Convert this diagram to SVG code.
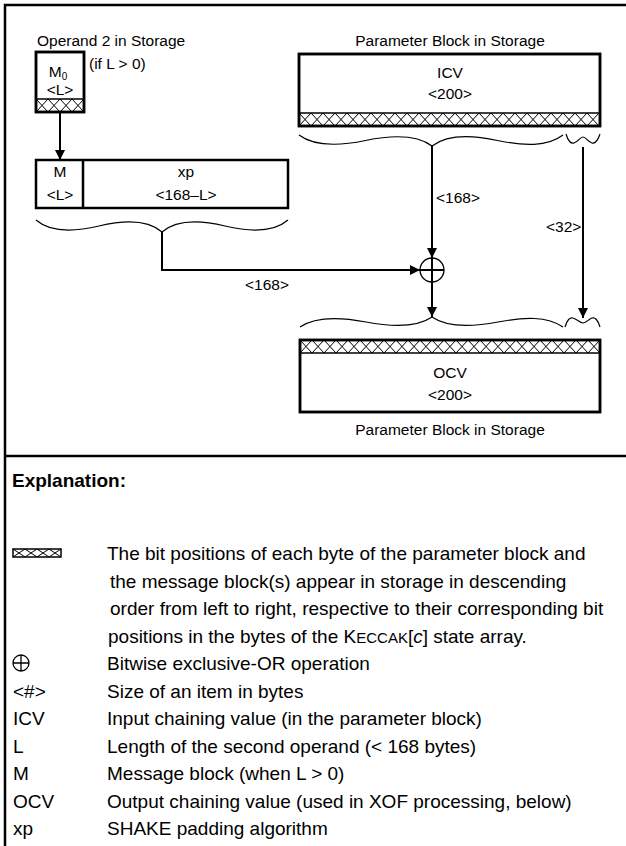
<svg xmlns="http://www.w3.org/2000/svg" width="626" height="846" viewBox="0 0 626 846">
<defs>
<style>
text{font-family:"Liberation Sans",Arial,sans-serif;fill:#000}
.d{font-size:15.5px}
.c{text-anchor:middle}
.l{font-size:19px}
.b{font-weight:bold}
.box{fill:#fff;stroke:#000;stroke-width:2.5}
.ol{fill:none;stroke:#000;stroke-width:2.5}
.strip{stroke:#000;stroke-width:1.5}
.frame{fill:none;stroke:#000;stroke-width:2.5}
.conn{fill:none;stroke:#000;stroke-width:2}
.brace{fill:none;stroke:#000;stroke-width:1.2}
.xc{fill:#fff;stroke:#000;stroke-width:1.3}
.xp{fill:none;stroke:#000;stroke-width:2}
</style>
<pattern id="hatch" width="12" height="13" patternUnits="userSpaceOnUse">
<path d="M0,0L12,13M12,0L0,13" stroke="#000" stroke-width="1" fill="none"/>
</pattern>
<pattern id="hatchS" width="12" height="8" patternUnits="userSpaceOnUse">
<path d="M0,0L12,8M12,0L0,8" stroke="#000" stroke-width="1" fill="none"/>
</pattern>
<marker id="arr" markerUnits="userSpaceOnUse" markerWidth="10" markerHeight="10" refX="10" refY="5" orient="auto">
<path d="M0,0L10,5L0,10z" fill="#000"/>
</marker>
</defs>

<g id="frame">
<path class="frame" d="M5,846V5H626"/>
<path class="frame" d="M5,456H626"/>
</g>

<g id="operand2">
<text class="d" x="37" y="46">Operand 2 in Storage</text>
<rect class="box" x="36" y="52" width="48" height="60"/>
<g transform="translate(36,99)"><rect class="strip" width="48" height="13" fill="url(#hatch)"/></g>
<rect class="ol" x="36" y="52" width="48" height="60"/>
<text class="d c" x="58" y="77">M<tspan font-size="10px" dy="3">0</tspan></text>
<text class="d c" x="60" y="95">&lt;L&gt;</text>
<text class="d" x="89" y="69">(if L &gt; 0)</text>
</g>

<g id="message">
<rect class="box" x="36" y="160" width="252" height="48"/>
<path class="ol" d="M83,160V208"/>
<text class="d c" x="60" y="177">M</text>
<text class="d c" x="60" y="200">&lt;L&gt;</text>
<text class="d c" x="186" y="177">xp</text>
<text class="d c" x="186" y="200">&lt;168–L&gt;</text>
<path class="brace" d="M36,220C51,233 74,232 99,226C124,220 147,219 162,232C177,219 200,220 225,226C250,232 273,233 288,220"/>
</g>

<g id="icv">
<text class="d c" x="450" y="46">Parameter Block in Storage</text>
<rect class="box" x="299" y="54" width="301" height="72"/>
<g transform="translate(299,113)"><rect class="strip" width="301" height="13" fill="url(#hatch)"/></g>
<rect class="ol" x="299" y="54" width="301" height="72"/>
<text class="d c" x="450" y="78">ICV</text>
<text class="d c" x="450" y="99">&lt;200&gt;</text>
<path class="brace" d="M299,135C315,147 339,146 365.5,140.5C392,135 416,134 432,146C448,134 472,135 497.5,140.5C524,146 547,147 563,135"/>
<path class="brace" d="M566,134C568,141 571,144 574,143C578,142 580,137 583,137C586,137 588,142 592,143C595,144 598,140 600,134"/>
</g>

<g id="xor">
<circle class="xc" cx="432" cy="270" r="12"/>
<path class="xp" d="M420,270H444M432,258V282"/>
</g>

<g id="ocv">
<path class="brace" d="M300,327C316,316 340,317 366,322C392,327 416,328 432,317C448,328 472,327 498,322C524,317 547,316 563,327"/>
<path class="brace" d="M565,327C567,320 570,317 573,318C577,319 580,323 583,323C586,323 589,319 592,318C595,317 598,320 600,327"/>
<rect class="box" x="300" y="340" width="300" height="72"/>
<g transform="translate(300,340)"><rect class="strip" width="300" height="13" fill="url(#hatch)"/></g>
<rect class="ol" x="300" y="340" width="300" height="72"/>
<text class="d c" x="450" y="378">OCV</text>
<text class="d c" x="450" y="400">&lt;200&gt;</text>
<text class="d c" x="450" y="435">Parameter Block in Storage</text>
</g>

<g id="connectors">
<path class="conn" d="M60,112V160" marker-end="url(#arr)"/>
<path class="conn" d="M162,232V270H420" marker-end="url(#arr)"/>
<path class="conn" d="M432,146V258" marker-end="url(#arr)"/>
<path class="conn" d="M432,282V317" marker-end="url(#arr)"/>
<path class="conn" d="M583,147V318" marker-end="url(#arr)"/>
<text class="d" x="436" y="203">&lt;168&gt;</text>
<text class="d" x="245" y="290">&lt;168&gt;</text>
<text class="d" x="546" y="232">&lt;32&gt;</text>
</g>

<g id="legend">
<text class="l b" x="12" y="487">Explanation:</text>
<g transform="translate(13,549)"><rect width="48" height="8" fill="url(#hatchS)" stroke="#000" stroke-width="1.5"/></g>
<text class="l" x="107" y="560">The bit positions of each byte of the parameter block and</text>
<text class="l" x="110" y="587.5">the message block(s) appear in storage in descending</text>
<text class="l" x="110" y="615">order from left to right, respective to their corresponding bit</text>
<text class="l" x="108" y="642.5">positions in the bytes of the K<tspan font-size="15px">ECCAK</tspan>[<tspan font-style="italic">c</tspan>] state array.</text>
<circle cx="21" cy="663" r="8" fill="none" stroke="#000" stroke-width="1.3"/>
<path d="M13,663H29M21,655V671" stroke="#000" stroke-width="1.3"/>
<text class="l" x="107" y="670">Bitwise exclusive-OR operation</text>
<text class="l" x="13" y="697.5">&lt;#&gt;</text>
<text class="l" x="107" y="697.5">Size of an item in bytes</text>
<text class="l" x="13" y="725">ICV</text>
<text class="l" x="107" y="725">Input chaining value (in the parameter block)</text>
<text class="l" x="13" y="752.5">L</text>
<text class="l" x="107" y="752.5">Length of the second operand (&lt; 168 bytes)</text>
<text class="l" x="13" y="780">M</text>
<text class="l" x="107" y="780">Message block (when L &gt; 0)</text>
<text class="l" x="13" y="807.5">OCV</text>
<text class="l" x="107" y="807.5">Output chaining value (used in XOF processing, below)</text>
<text class="l" x="13" y="835">xp</text>
<text class="l" x="107" y="835">SHAKE padding algorithm</text>
</g>
</svg>
